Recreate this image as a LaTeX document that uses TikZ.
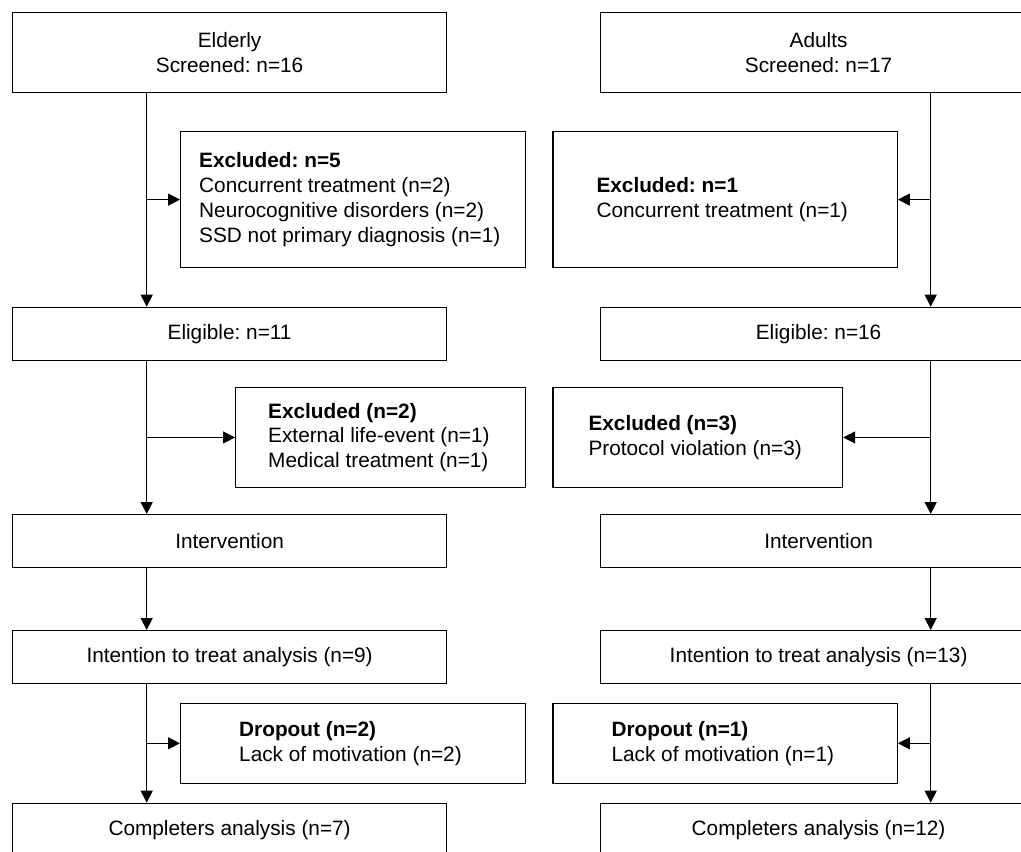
\documentclass[tikz,border=0pt]{standalone}
\usepackage{fontspec}
\setmainfont{Liberation Sans}
\frenchspacing
\usetikzlibrary{arrows.meta}

\begin{document}
\begin{tikzpicture}[x=1pt, y=-1pt,
    every node/.style={font=\fontsize{20.8pt}{24.8pt}\selectfont},
    mainbox/.style={rectangle, draw, line width=1.2pt, align=center, anchor=north west, inner sep=0pt, minimum height=53pt},
    sidebox/.style={rectangle, draw, line width=1.2pt, anchor=north west, inner sep=0pt},
    sidetext/.style={align=left, anchor=west, inner sep=0pt},
    arr/.style={line width=1.3pt, -{Triangle[length=12pt, width=12pt]}}]

         \clip (0,0) rectangle (1021,852);

         % left column
         \node [mainbox, minimum width=434pt, minimum height=80pt] (elderly)   at (12,12)    {Elderly\\Screened: n=16};
         \node [mainbox, minimum width=434pt] (eligL)     at (12,306.7) {Eligible: n=11};
         \node [mainbox, minimum width=434pt] (intervL)   at (12,514)   {Intervention};
         \node [mainbox, minimum width=434pt] (ittL)      at (12,630)   {Intention to treat analysis (n=9)};
         \node [mainbox, minimum width=434pt] (complL)    at (12,802.7) {Completers analysis (n=7)};

         \node [sidebox, minimum width=345pt, minimum height=136pt]   (exclL)  at (180,131)   {};
         \node [sidebox, minimum width=290pt, minimum height=100.3pt] (exclLL) at (235,386.7) {};
         \node [sidebox, minimum width=345pt, minimum height=80pt]    (dropL)  at (180,702.7) {};

         \node [sidetext] (exclLtext)  at ([xshift=19pt]exclL.west)  {\textbf{Excluded: n=5}\\Concurrent treatment (n=2)\\Neurocognitive disorders (n=2)\\SSD not primary diagnosis (n=1)};
         \node [sidetext] (exclLLtext) at ([xshift=33pt]exclLL.west) {\textbf{Excluded (n=2)}\\External life-event (n=1)\\Medical treatment (n=1)};
         \node [sidetext] (dropLtext)  at ([xshift=59pt]dropL.west)  {\textbf{Dropout (n=2)}\\Lack of motivation (n=2)};

         % right column
         \node [mainbox, minimum width=436pt, minimum height=80pt] (adults)    at (600,12)    {Adults\\Screened: n=17};
         \node [mainbox, minimum width=436pt] (eligR)     at (600,306.7) {Eligible: n=16};
         \node [mainbox, minimum width=436pt] (intervR)   at (600,514)   {Intervention};
         \node [mainbox, minimum width=436pt] (ittR)      at (600,630)   {Intention to treat analysis (n=13)};
         \node [mainbox, minimum width=436pt] (complR)    at (600,802.7) {Completers analysis (n=12)};

         \node [sidebox, minimum width=344.4pt, minimum height=136pt]   (exclR)  at (552.3,131)   {};
         \node [sidebox, minimum width=289.7pt, minimum height=100.3pt] (exclRR) at (552.3,386.7) {};
         \node [sidebox, minimum width=344.4pt, minimum height=80pt]    (dropR)  at (552.3,702.7) {};

         \node [sidetext] (exclRtext)  at ([xshift=44pt]exclR.west)  {\textbf{Excluded: n=1}\\Concurrent treatment (n=1)};
         \node [sidetext] (exclRRtext) at ([xshift=36pt]exclRR.west) {\textbf{Excluded (n=3)}\\Protocol violation (n=3)};
         \node [sidetext] (dropRtext)  at ([xshift=59pt]dropR.west)  {\textbf{Dropout (n=1)}\\Lack of motivation (n=1)};

         \coordinate (spineL) at (146.7,0);
         \coordinate (spineR) at (930.7,0);

         % left flow
         \draw [arr] (elderly.south -| spineL) -- (eligL.north -| spineL);
         \draw [arr] (exclL.west -| spineL) -- (exclL.west);
         \draw [arr] (eligL.south -| spineL) -- (intervL.north -| spineL);
         \draw [arr] (exclLL.west -| spineL) -- (exclLL.west);
         \draw [arr] (intervL.south -| spineL) -- (ittL.north -| spineL);
         \draw [arr] (ittL.south -| spineL) -- (complL.north -| spineL);
         \draw [arr] (dropL.west -| spineL) -- (dropL.west);

         % right flow
         \draw [arr] (adults.south -| spineR) -- (eligR.north -| spineR);
         \draw [arr] (exclR.east -| spineR) -- (exclR.east);
         \draw [arr] (eligR.south -| spineR) -- (intervR.north -| spineR);
         \draw [arr] (exclRR.east -| spineR) -- (exclRR.east);
         \draw [arr] (intervR.south -| spineR) -- (ittR.north -| spineR);
         \draw [arr] (ittR.south -| spineR) -- (complR.north -| spineR);
         \draw [arr] (dropR.east -| spineR) -- (dropR.east);

\end{tikzpicture}
\end{document}
